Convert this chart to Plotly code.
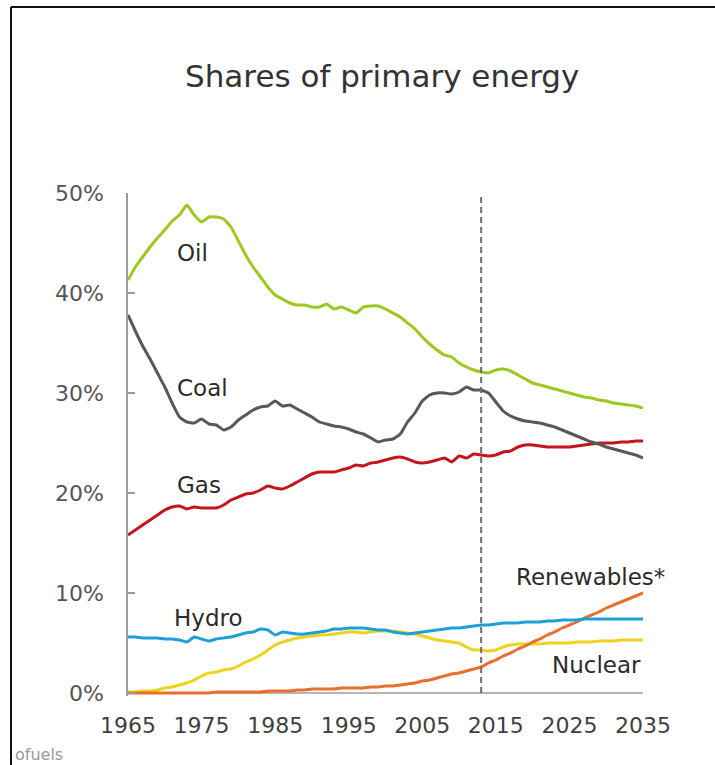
import plotly.graph_objects as go

# Shares of world primary energy, history to 2013 and outlook to 2035 (percent)
years = list(range(1965, 2036))

oil = [41.3, 42.6, 43.6, 44.6, 45.5, 46.3, 47.2, 47.8, 48.8, 47.8,
       47.1, 47.6, 47.6, 47.4, 46.6, 45.2, 43.8, 42.6, 41.6, 40.6,
       39.8, 39.4, 39.0, 38.8, 38.8, 38.6, 38.6, 38.9, 38.4, 38.6,
       38.3, 38.0, 38.6, 38.7, 38.7, 38.4, 38.0, 37.6, 37.0, 36.4,
       35.6, 34.9, 34.3, 33.8, 33.6, 33.0, 32.6, 32.3, 32.1, 32.0,
       32.3, 32.4, 32.2, 31.8, 31.4, 31.0, 30.8, 30.6, 30.4, 30.2,
       30.0, 29.8, 29.6, 29.5, 29.3, 29.2, 29.0, 28.9, 28.8, 28.7, 28.5]

coal = [37.8, 36.2, 34.7, 33.4, 32.0, 30.6, 29.0, 27.6, 27.1, 27.0,
        27.4, 26.9, 26.8, 26.3, 26.6, 27.3, 27.8, 28.3, 28.6, 28.7,
        29.2, 28.7, 28.8, 28.4, 28.0, 27.6, 27.1, 26.9, 26.7, 26.6,
        26.4, 26.1, 25.9, 25.5, 25.1, 25.3, 25.4, 25.9, 27.1, 28.0,
        29.2, 29.8, 30.0, 30.0, 29.9, 30.1, 30.6, 30.3, 30.3, 30.0,
        29.1, 28.2, 27.7, 27.4, 27.2, 27.1, 27.0, 26.8, 26.6, 26.3,
        26.0, 25.7, 25.4, 25.1, 24.9, 24.6, 24.4, 24.2, 24.0, 23.8, 23.5]

gas = [15.8, 16.3, 16.8, 17.3, 17.8, 18.3, 18.6, 18.7, 18.4, 18.6,
       18.5, 18.5, 18.5, 18.8, 19.3, 19.6, 19.9, 20.0, 20.3, 20.7,
       20.5, 20.4, 20.7, 21.1, 21.5, 21.9, 22.1, 22.1, 22.1, 22.3,
       22.5, 22.8, 22.7, 23.0, 23.1, 23.3, 23.5, 23.6, 23.4, 23.1,
       23.0, 23.1, 23.3, 23.5, 23.1, 23.7, 23.5, 23.9, 23.8, 23.7,
       23.8, 24.1, 24.2, 24.6, 24.8, 24.8, 24.7, 24.6, 24.6, 24.6,
       24.6, 24.7, 24.8, 24.9, 25.0, 25.0, 25.0, 25.1, 25.1, 25.2, 25.2]

hydro = [5.6, 5.6, 5.5, 5.5, 5.5, 5.4, 5.4, 5.3, 5.1, 5.6,
         5.4, 5.2, 5.4, 5.5, 5.6, 5.8, 6.0, 6.1, 6.4, 6.3,
         5.8, 6.1, 6.0, 5.9, 5.9, 6.0, 6.1, 6.2, 6.4, 6.4,
         6.5, 6.5, 6.5, 6.4, 6.3, 6.3, 6.1, 6.0, 5.9, 6.0,
         6.1, 6.2, 6.3, 6.4, 6.5, 6.5, 6.6, 6.7, 6.8, 6.8,
         6.9, 7.0, 7.0, 7.0, 7.1, 7.1, 7.1, 7.2, 7.2, 7.3,
         7.3, 7.3, 7.4, 7.4, 7.4, 7.4, 7.4, 7.4, 7.4, 7.4, 7.4]

nuclear = [0.1, 0.1, 0.2, 0.2, 0.3, 0.5, 0.6, 0.8, 1.0, 1.3,
           1.7, 2.0, 2.1, 2.3, 2.4, 2.7, 3.1, 3.4, 3.8, 4.3,
           4.8, 5.1, 5.3, 5.5, 5.6, 5.7, 5.8, 5.8, 5.9, 6.0,
           6.1, 6.1, 6.0, 6.1, 6.2, 6.2, 6.2, 6.1, 6.0, 5.9,
           5.7, 5.5, 5.3, 5.2, 5.1, 5.0, 4.6, 4.3, 4.3, 4.2,
           4.3, 4.6, 4.8, 4.9, 4.9, 4.9, 4.9, 5.0, 5.0, 5.0,
           5.0, 5.1, 5.1, 5.1, 5.2, 5.2, 5.2, 5.3, 5.3, 5.3, 5.3]

renewables = [0.0, 0.0, 0.0, 0.0, 0.0, 0.0, 0.0, 0.0, 0.0, 0.0,
              0.0, 0.0, 0.1, 0.1, 0.1, 0.1, 0.1, 0.1, 0.1, 0.2,
              0.2, 0.2, 0.2, 0.3, 0.3, 0.4, 0.4, 0.4, 0.4, 0.5,
              0.5, 0.5, 0.5, 0.6, 0.6, 0.7, 0.7, 0.8, 0.9, 1.0,
              1.2, 1.3, 1.5, 1.7, 1.9, 2.0, 2.2, 2.4, 2.6, 3.0,
              3.3, 3.7, 4.0, 4.4, 4.7, 5.1, 5.4, 5.8, 6.1, 6.5,
              6.8, 7.1, 7.5, 7.8, 8.1, 8.5, 8.8, 9.1, 9.4, 9.7, 10.0]

outlook_start = 2013
y_ticks = [0, 10, 20, 30, 40, 50]
y_tick_text = ["0%", "10%", "20%", "30%", "40%", "50%"]
x_ticks = [1965, 1975, 1985, 1995, 2005, 2015, 2025, 2035]

series = [
    ("Nuclear", nuclear, "#efd21e"),
    ("Renewables*", renewables, "#e8702c"),
    ("Hydro", hydro, "#1e9fd8"),
    ("Gas", gas, "#c4151c"),
    ("Coal", coal, "#58585a"),
    ("Oil", oil, "#9cc820"),
]

fig = go.Figure()
for name, vals, color in series:
    fig.add_trace(go.Scatter(
        x=years, y=vals, mode="lines", name=name,
        line=dict(color=color, width=3, shape="spline", smoothing=0.4),
        hoverinfo="x+y+name",
    ))

label_font = dict(family="DejaVu Sans", size=23, color="#2b2b2b")
# (text, x, y, anchor, horizontal pixel shift)
labels = [
    ("Oil", 1971.4, 44.0, "left", 0),
    ("Coal", 1971.4, 30.5, "left", 0),
    ("Gas", 1971.4, 20.8, "left", 0),
    ("Hydro", 1971.0, 7.5, "left", 0),
    ("Renewables*", 2035.0, 11.6, "right", 24),
    ("Nuclear", 2035.0, 2.8, "right", 0),
]
for text, lx, ly, anchor, shift in labels:
    fig.add_annotation(x=lx, y=ly, xref="x", yref="y", text=text,
                       showarrow=False, xanchor=anchor, yanchor="middle",
                       xshift=shift, font=label_font)

# Title
fig.add_annotation(x=0.493, y=1.2326, xref="paper", yref="paper",
                   text="Shares of primary energy", showarrow=False,
                   xanchor="center", yanchor="middle",
                   font=dict(family="DejaVu Sans", size=31, color="#333333"))

# Footnote fragment at the lower edge
fig.add_annotation(x=-0.2233, y=-0.116, xref="paper", yref="paper",
                   text="ofuels", showarrow=False, xanchor="left",
                   yanchor="middle",
                   font=dict(family="DejaVu Sans", size=16, color="#9a9a9a"))

shapes = [
    # history / outlook divider
    dict(type="line", xref="x", yref="y", x0=outlook_start, x1=outlook_start,
         y0=0, y1=50, line=dict(color="#6f6f6f", width=2, dash="6px,4px")),
    # frame border
    dict(type="line", xref="paper", yref="paper", x0=-0.2272, x1=-0.2272,
         y0=-0.3, y1=1.3698, line=dict(color="#111111", width=2)),
    dict(type="line", xref="paper", yref="paper", x0=-0.2272, x1=1.3,
         y0=1.3698, y1=1.3698, line=dict(color="#111111", width=2)),
]

fig.update_layout(
    width=715, height=765,
    margin=dict(l=128, r=72, t=193, b=69),
    paper_bgcolor="white", plot_bgcolor="white",
    showlegend=False,
    shapes=shapes,
    xaxis=dict(
        range=[1965, 2035], tickmode="array", tickvals=x_ticks,
        showgrid=False, zeroline=False, showline=False, ticks="",
        tickfont=dict(family="DejaVu Sans", size=22, color="#3f3f3f"),
        ticklabelstandoff=14,
    ),
    yaxis=dict(
        range=[-0.3, 50], tickmode="array", tickvals=y_ticks,
        ticktext=y_tick_text, showgrid=False,
        zeroline=True, zerolinecolor="#b5b5b5", zerolinewidth=2,
        showline=True, linecolor="#9a9a9a", linewidth=1.5,
        ticks="inside", ticklen=7, tickcolor="#9a9a9a", tickwidth=1.5,
        tickfont=dict(family="DejaVu Sans", size=22, color="#555555"),
        ticklabelstandoff=18,
    ),
)

fig.write_html("out.html")
